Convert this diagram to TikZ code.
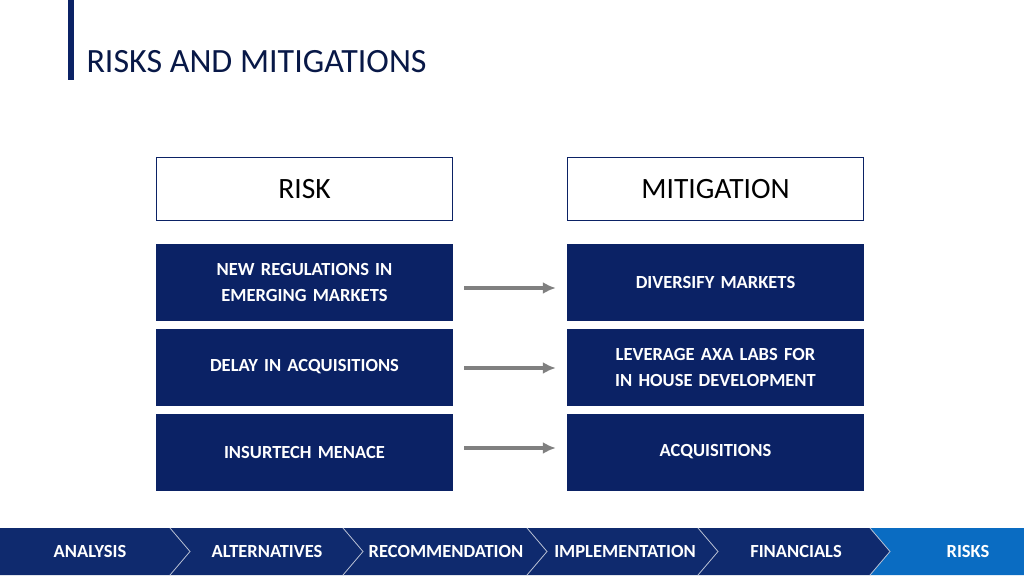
\documentclass[tikz,border=0pt]{standalone}
\usepackage{fontspec}
\setmainfont{Carlito}
\usepackage{tikz}
\usetikzlibrary{calc,arrows.meta}
\definecolor{navy}{HTML}{0B2265}
\definecolor{navbar}{HTML}{0F2A6E}
\definecolor{skyblue}{HTML}{0A6CC2}
\definecolor{arrowgray}{HTML}{808080}
\tikzset{
  headbox/.style={draw=navy, line width=1.5pt, fill=white, minimum width=296pt, minimum height=63pt, font=\fontsize{29.5}{34}\selectfont},
  riskbox/.style={fill=navy, text=white, minimum width=297pt, minimum height=77pt, text width=288pt, align=center, font=\bfseries\fontsize{18.5}{26}\selectfont},
  navlabel/.style={text=white, font=\bfseries\fontsize{18.5}{22}\selectfont}
}
\begin{document}
\begin{tikzpicture}[x=1pt,y=-1pt]
        \useasboundingbox[fill=white] (0,0) rectangle (1024,576);
        \fill[navy] (68,0) rectangle (74,80);
        \node[anchor=west, text=navy!70!black, font=\fontsize{34}{40}\selectfont] (title) at (83,62) {RISKS AND MITIGATIONS};
        \node[headbox] (risk) at (304.5,189) {RISK};
        \node[headbox] (mitigation) at (715.5,189) {MITIGATION};
        \coordinate (s) at (0,282);
        \foreach \r/\m [count=\i] in {{NEW REGULATIONS IN EMERGING MARKETS}/{DIVERSIFY MARKETS}, {DELAY IN ACQUISITIONS}/{LEVERAGE AXA LABS FOR IN HOUSE DEVELOPMENT}, {INSURTECH MENACE}/{ACQUISITIONS}}{
        \node[riskbox] (r\i) at ($(s) + (304.5,0)$) {\r};
        \node[riskbox] (m\i) at ($(s) + (715.5,0)$) {\m};
        \draw[arrowgray, line width=3.5pt, -{Latex[length=13pt,width=12pt]}] ($(r\i.east) + (11,11-5*\i)$) -- ($(m\i.west) + (-11,11-5*\i)$);
        \coordinate (s) at ($(s) + (0,85)$);
        }
        % navigation bar
        \fill[navbar] (0,528) -- (170,528) -- (190,551.5) -- (170,575) -- (0,575) -- cycle;
        \node[navlabel] (nav1) at (90,551.5) {ANALYSIS};
        \foreach \a/\b/\lab/\cx [count=\j from 2] in {170/343/ALTERNATIVES/267, 343/527/RECOMMENDATION/446, 527/698/IMPLEMENTATION/625, 698/870/FINANCIALS/796}{
        \fill[navbar] (\a,528) -- (\b,528) -- (\b+20,551.5) -- (\b,575) -- (\a,575) -- (\a+20,551.5) -- cycle;
        \node[navlabel] (nav\j) at (\cx,551.5) {\lab};
        }
        \fill[skyblue] (870,528) -- (1024,528) -- (1024,575) -- (870,575) -- (890,551.5) -- cycle;
        \foreach \b in {170,343,527,698,870}
        \draw[white!70!navbar, line width=0.8pt] (\b,528) -- (\b+20,551.5) -- (\b,575);
        \node[navlabel] (nav6) at (968,551.5) {RISKS};
\end{tikzpicture}
\end{document}
